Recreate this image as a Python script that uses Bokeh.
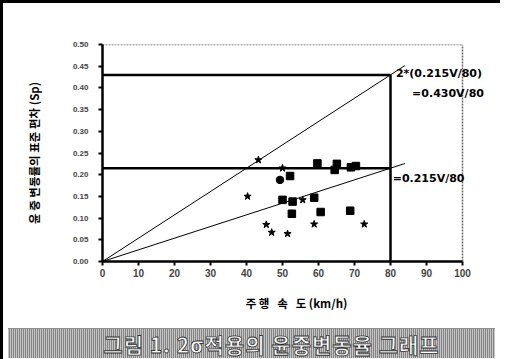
from bokeh.plotting import figure
from bokeh.models import ColumnDataSource, Label, Div, FixedTicker, NumeralTickFormatter
from bokeh.layouts import column
from bokeh.embed import file_html
from bokeh.resources import INLINE

# ---- data ----
speed = [43.3, 50.0, 59.7, 52.1, 49.3, 40.3, 50.0, 52.8, 55.6, 58.8, 52.6,
         60.6, 45.5, 47.0, 51.4, 58.8, 64.5, 65.1, 69.0, 70.4, 68.8, 72.7]
sp = [0.234, 0.215, 0.226, 0.197, 0.188, 0.150, 0.142, 0.138, 0.142, 0.147, 0.110,
      0.114, 0.085, 0.067, 0.064, 0.086, 0.211, 0.225, 0.217, 0.220, 0.117, 0.086]
markers = ["star", "star", "square", "square", "circle", "star", "square", "square",
           "star", "square", "square", "square", "star", "star", "star", "star",
           "square", "square", "square", "square", "square", "star"]

sigma1 = 0.215          # 1σ limit at reference speed
sigma2 = 0.430          # 2σ limit
v_ref = 80              # reference speed km/h
v_ext = 84              # extent of slope lines
x_max = 100
y_max = 0.5
x_ticks = [0, 10, 20, 30, 40, 50, 60, 70, 80, 90, 100]
y_ticks = [0.00, 0.05, 0.10, 0.15, 0.20, 0.25, 0.30, 0.35, 0.40, 0.45, 0.50]

FONT = "Liberation Sans"

W, H = 487, 320
ML, MR, MT, MB = 99, 0, 41, 62
frame_w = W - ML - MR
x_end = x_max * frame_w / 360.0   # 100 units span 360 px

p = figure(width=W, height=H, x_range=(0, x_end), y_range=(0, y_max),
           output_backend="svg", toolbar_location=None,
           min_border_left=ML, min_border_right=MR, min_border_top=MT,
           min_border_bottom=MB)
p.xgrid.visible = False
p.ygrid.visible = False
p.outline_line_color = None

p.xaxis.ticker = FixedTicker(ticks=x_ticks)
p.xaxis.bounds = (0, x_max)
p.yaxis.ticker = FixedTicker(ticks=y_ticks)
p.yaxis.formatter = NumeralTickFormatter(format="0.00")
for ax in (p.xaxis, p.yaxis):
    ax.axis_line_width = 2.5
    ax.axis_line_color = "black"
    ax.major_tick_line_width = 2
    ax.major_tick_in = 0
    ax.major_tick_out = 4
    ax.minor_tick_line_color = None
    ax.major_label_text_font = FONT
    ax.major_label_text_font_style = "bold"
    ax.major_label_text_color = "#444444"
    ax.axis_label_text_font = "Noto Sans CJK KR"
    ax.axis_label_text_font_style = "bold"
    ax.axis_label_text_font_size = "11.5px"
    ax.axis_label_text_color = "black"
p.xaxis.major_label_text_font_size = "10px"
p.yaxis.major_label_text_font_size = "8px"
p.yaxis.major_label_standoff = 10
p.xaxis.major_label_standoff = 3
p.xaxis.axis_label = "주\u00a0행\u00a0\u00a0\u00a0속\u00a0\u00a0\u00a0도\u00a0(km/h)"
p.yaxis.axis_label = "윤\u00a0중\u00a0변동률의\u00a0표준\u00a0편차\u00a0(Sp)"
p.yaxis.axis_label_standoff = 28
p.xaxis.axis_label_standoff = 15

# dotted frame on top and right
p.line([0, x_max], [y_max, y_max], line_color="#666666", line_dash="2 1", line_width=1.5)
p.line([x_max, x_max], [0, y_max], line_color="#666666", line_dash="2 1", line_width=1.5)

# slope lines
p.line([0, v_ext], [0, sigma2 / v_ref * v_ext], line_color="black", line_width=1)
p.line([0, v_ext], [0, sigma1 / v_ref * v_ext], line_color="black", line_width=1)
# horizontal / vertical limit lines
p.line([0, v_ref], [sigma2, sigma2], line_color="black", line_width=2.5)
p.line([0, v_ref], [sigma1, sigma1], line_color="black", line_width=2.5)
p.line([v_ref, v_ref], [0, sigma2], line_color="black", line_width=2.5)

src = ColumnDataSource(dict(x=speed, y=sp, m=markers))
p.scatter("x", "y", marker="m", source=src, size=7.5, fill_color="black",
          line_color="black")

lab_kw = dict(text_font="DejaVu Sans", text_font_style="bold", text_font_size="11px",
              text_color="black", text_baseline="middle")
p.add_layout(Label(x=81.5, y=sigma2 + 0.003, text="2*(0.215V/80)", **lab_kw))
p.add_layout(Label(x=86.0, y=0.386, text="=0.430V/80", **lab_kw))
p.add_layout(Label(x=80.6, y=0.192, text="=0.215V/80", **lab_kw))

cap = Div(text="그림 1. 2σ적용의 윤중변동율 그래프", width=W, height=30,
          styles={"background-color": "#9d9d9d",
                  "background-image": "repeating-linear-gradient(90deg, #c4c4c4 0 1px, #858585 1px 2px)",
                  "color": "white", "font-family": "Noto Sans CJK KR",
                  "font-weight": "bold", "font-size": "21px",
                  "letter-spacing": "1px", "white-space": "nowrap",
                  "text-align": "center", "line-height": "30px",
                  "-webkit-text-stroke": "0.8px #333333",
                  "width": f"{W}px", "padding-left": "40px",
                  "box-sizing": "border-box", "overflow": "hidden",
                  "border-top": "1px dotted #999999"})

layout = column(p, cap, styles={"border-left": "3px solid black",
                                "border-top": "3px solid black"})

open("out.html", "w").write(file_html(layout, INLINE))
